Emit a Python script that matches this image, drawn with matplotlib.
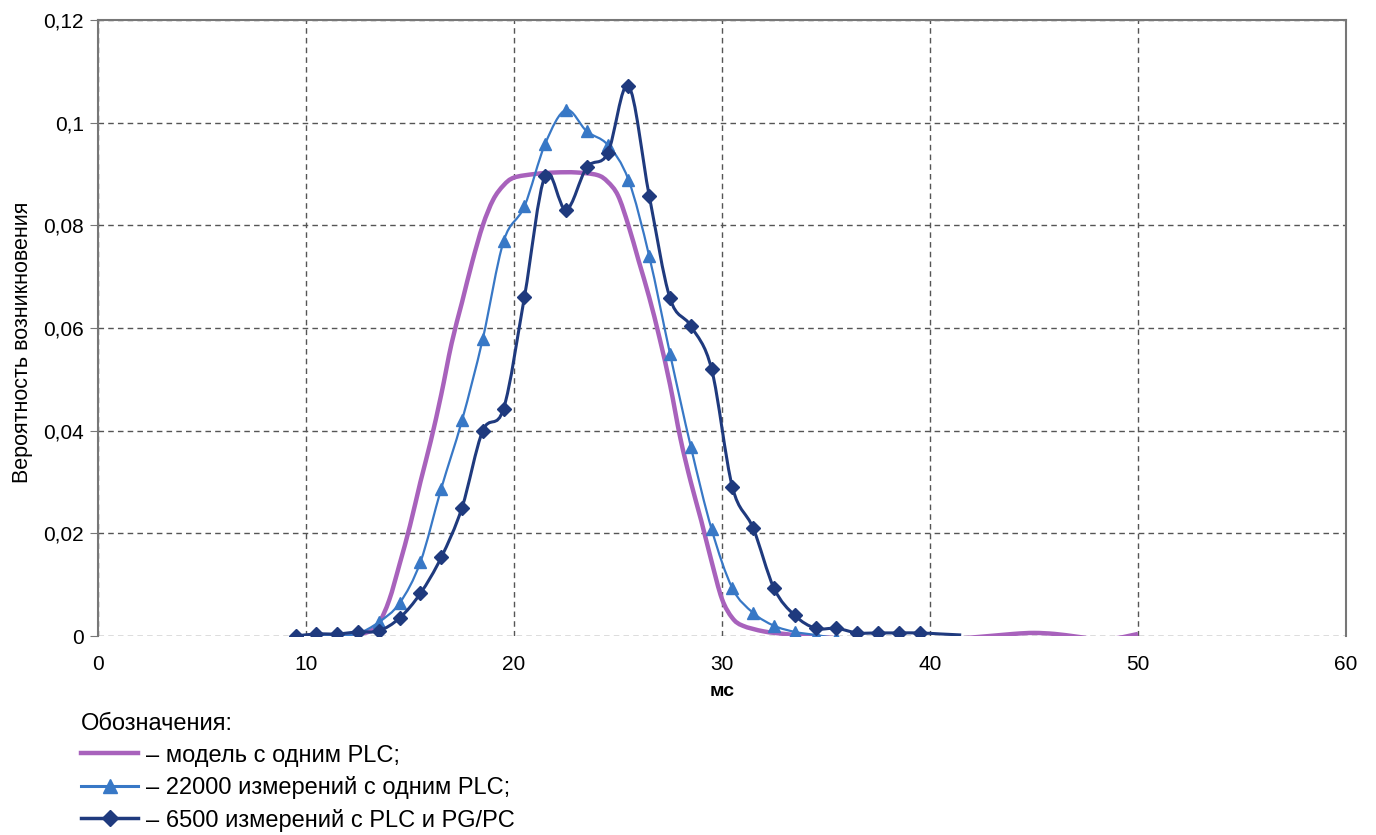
import numpy as np
import matplotlib
matplotlib.use("Agg")
import matplotlib.pyplot as plt
from matplotlib.path import Path
from matplotlib.patches import PathPatch
from matplotlib.lines import Line2D
from matplotlib.ticker import FuncFormatter

plt.rcParams['font.family'] = ['Liberation Sans', 'DejaVu Sans']

# model curve (one PLC)
model_x = [10, 11, 12, 13, 13.5, 14, 14.5, 15, 15.5, 16, 16.5, 17, 17.5, 18, 18.5,
           19, 19.5, 20, 21, 22, 23, 24, 24.5, 25, 25.5, 26, 26.5, 27, 27.5, 28,
           28.5, 29, 29.5, 30, 30.5, 31, 32, 33, 34, 35, 36, 38, 40, 42, 44, 45,
           46, 47, 48, 49, 50]
model_y = [0.0, 0.0, 0.0002, 0.0008, 0.0025, 0.007, 0.014, 0.0215, 0.030, 0.038,
           0.047, 0.057, 0.065, 0.073, 0.080, 0.085, 0.0878, 0.0893, 0.0900, 0.0903,
           0.0903, 0.0898, 0.0885, 0.0858, 0.080, 0.073, 0.066, 0.058, 0.049, 0.0385,
           0.030, 0.0225, 0.0145, 0.0072, 0.0035, 0.0020, 0.0009, 0.0004, 0.0,
           -0.0003, -0.0005, -0.0008, -0.0008, -0.0003, 0.0004, 0.0006, 0.0004,
           -0.0001, -0.0006, -0.0004, 0.0004]

# 22000 measurements, one PLC
meas1_x = [10.5, 11.5, 12.5, 13.5, 14.5, 15.5, 16.5, 17.5, 18.5, 19.5, 20.5, 21.5,
           22.5, 23.5, 24.5, 25.5, 26.5, 27.5, 28.5, 29.5, 30.5, 31.5, 32.5, 33.5,
           34.5, 35.5, 36.5, 37.5, 38.5, 39.5]
meas1_y = [0.0, 0.0, 0.0005, 0.0027, 0.0064, 0.0144, 0.0287, 0.042, 0.0579, 0.0769,
           0.0837, 0.0959, 0.1025, 0.0983, 0.0957, 0.0889, 0.074, 0.055, 0.0369,
           0.0208, 0.0093, 0.0045, 0.002, 0.0008, 0.0002, -0.0004, -0.0008, -0.0008,
           -0.0008, -0.0008]

# 6500 measurements, PLC and PG/PC
meas2_x = [9.5, 10.5, 11.5, 12.5, 13.5, 14.5, 15.5, 16.5, 17.5, 18.5, 19.5, 20.5,
           21.5, 22.5, 23.5, 24.5, 25.5, 26.5, 27.5, 28.5, 29.5, 30.5, 31.5, 32.5,
           33.5, 34.5, 35.5, 36.5, 37.5, 38.5, 39.5, 40.5, 41.5]
meas2_y = [0.0, 0.0004, 0.0004, 0.0008, 0.001, 0.0035, 0.0083, 0.0153, 0.025, 0.040,
           0.0443, 0.066, 0.0897, 0.083, 0.0913, 0.094, 0.1072, 0.0858, 0.0658,
           0.0604, 0.052, 0.029, 0.021, 0.0093, 0.004, 0.0015, 0.0015, 0.0006,
           0.0006, 0.0006, 0.0006, 0.0004, 0.0002]

labels = ['– модель с одним PLC;',
          '– 22000 измерений с одним PLC;',
          '– 6500 измерений с PLC и PG/PC']
c_model = '#A862BC'
c_meas1 = '#3878C6'
c_meas2 = '#1F3A7E'


def smooth_path(xs, ys):
    # Catmull-Rom through the points, written as cubic bezier segments
    pts = np.column_stack([xs, ys])
    n = len(pts)
    verts = [pts[0]]
    codes = [Path.MOVETO]
    for i in range(n - 1):
        p0 = pts[max(i - 1, 0)]
        p1 = pts[i]
        p2 = pts[i + 1]
        p3 = pts[min(i + 2, n - 1)]
        verts += [p1 + (p2 - p0) / 6, p2 - (p3 - p1) / 6, p2]
        codes += [Path.CURVE4] * 3
    return Path(verts, codes)


fig = plt.figure(figsize=(13.76, 8.35), dpi=100)
ax = fig.add_axes([98 / 1376, 1 - 636 / 835, 1248 / 1376, 616 / 835])

ax.add_patch(PathPatch(smooth_path(model_x, model_y), fill=False,
                       edgecolor=c_model, lw=3.2, zorder=3))
ax.add_patch(PathPatch(smooth_path(meas1_x, meas1_y), fill=False,
                       edgecolor=c_meas1, lw=1.6, zorder=4))
ax.plot(meas1_x[3:], meas1_y[3:], ls='none', marker='^', ms=8,
        color=c_meas1, zorder=4)
ax.add_patch(PathPatch(smooth_path(meas2_x, meas2_y), fill=False,
                       edgecolor=c_meas2, lw=2.2, zorder=5))
ax.plot(meas2_x[:-2], meas2_y[:-2], ls='none', marker='D', ms=7,
        color=c_meas2, zorder=5)

ax.set_xlim(0, 60)
ax.set_ylim(0, 0.12)
ax.set_xticks(range(0, 61, 10))
ax.set_yticks(np.arange(0, 0.121, 0.02))
ax.yaxis.set_major_formatter(FuncFormatter(
    lambda v, p: '0' if abs(v) < 1e-9 else ('%g' % round(v, 2)).replace('.', ',')))
ax.grid(True, ls=(0, (4, 3)), color='#555555', lw=1)
ax.set_axisbelow(True)
for s in ['left', 'top', 'right']:
    ax.spines[s].set_color('#777777')
    ax.spines[s].set_linewidth(1.5)
ax.spines['bottom'].set_visible(False)
ax.tick_params(axis='y', direction='out', length=6, color='#777777',
               labelsize=15, pad=4)
ax.tick_params(axis='x', length=0, labelsize=15, pad=14)

ax.set_ylabel('Вероятность возникновения', fontsize=15.5)
ax.yaxis.set_label_coords(-0.052, 0.477)
ax.set_xlabel('мс', fontsize=14, fontweight='bold', labelpad=6)

handles = [Line2D([], [], color=c_model, lw=3.2),
           Line2D([], [], color=c_meas1, lw=2.2, marker='^', ms=10),
           Line2D([], [], color=c_meas2, lw=2.5, marker='D', ms=8)]
fig.legend(handles, labels, title='Обозначения:', loc='upper left',
           bbox_to_anchor=(60 / 1376, 1 - 692 / 835), frameon=False,
           fontsize=17, title_fontsize=17, alignment='left',
           handlelength=2.4, handletextpad=0.35, labelspacing=0.4)

fig.savefig('out.png', dpi=100)
